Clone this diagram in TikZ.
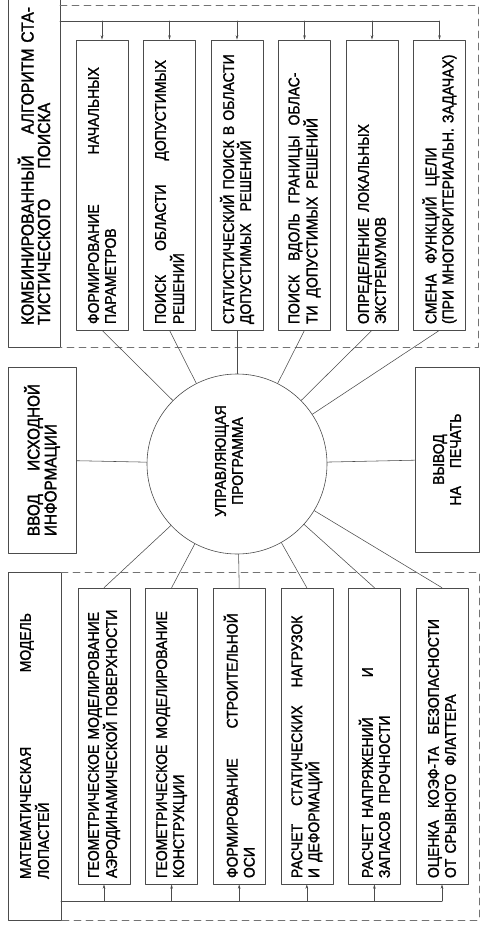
\documentclass[tikz,border=0pt]{standalone}
\usepackage{fontspec}
\setmainfont{Liberation Sans}[FakeStretch=0.9,FakeBold=1.5]
\usetikzlibrary{arrows.meta}

\begin{document}
\begin{tikzpicture}[x=1pt,y=-1pt,line cap=round,line join=round,
  blk/.style={draw=black!70,line width=0.6pt,rotate=90,inner xsep=4pt,inner ysep=0pt,
    font=\fontsize{15.5}{17}\selectfont},
  upbox/.style={blk,minimum width=290pt,minimum height=52pt,text width=278pt,align=left},
  lowbox/.style={blk,minimum width=296pt,minimum height=52pt,text width=284pt,align=left},
  wire/.style={draw=black!70,line width=0.55pt},
  feed/.style={wire,-{Stealth[length=4.5pt,width=2.6pt]}},
  dashframe/.style={draw=black!55,line width=0.6pt,dash pattern=on 7pt off 5pt}]
  \useasboundingbox (0,0) rectangle (482,925);
  \fill[white] (0,0) rectangle (482,925);
  % алгоритм поиска
  \node[blk,minimum width=362pt,minimum height=52pt,text width=318pt,align=left,
    font=\fontsize{17.5}{16.5}\selectfont] (thead) at (34,166)
    {КОМБИНИРОВАННЫЙ\hfill АЛГОРИТМ СТА-\\ТИСТИЧЕСКОГО\hspace{30pt}ПОИСКА};
  \node[upbox] (t1) at (102,185) {ФОРМИРОВАНИЕ\hspace{50pt}НАЧАЛЬНЫХ\\ПАРАМЕТРОВ};
  \node[upbox] (t2) at (169.5,185) {ПОИСК\hspace{24pt}ОБЛАСТИ\hspace{24pt}ДОПУСТИМЫХ\\РЕШЕНИЙ};
  \node[upbox] (t3) at (237,185) {СТАТИСТИЧЕСКИЙ ПОИСК В ОБЛАСТИ\\ДОПУСТИМЫХ\hspace{12pt}РЕШЕНИЙ};
  \node[upbox] (t4) at (304.5,185) {ПОИСК\hspace{14pt}ВДОЛЬ\hspace{10pt}ГРАНИЦЫ\hspace{10pt}ОБЛАС-\\ТИ\hspace{8pt}ДОПУСТИМЫХ\hspace{8pt}РЕШЕНИЙ};
  \node[upbox] (t5) at (372,185) {ОПРЕДЕЛЕНИЕ\hspace{6pt}ЛОКАЛЬНЫХ\\ЭКСТРЕМУМОВ};
  \node[upbox] (t6) at (439.5,185) {СМЕНА\hspace{10pt}ФУНКЦИЙ\hspace{10pt}ЦЕЛИ\\(ПРИ МНОГОКРИТЕРИАЛЬН. ЗАДАЧАХ)};
  \coordinate (tbus) at (60,21);
  \draw[wire] (tbus) -- (tbus -| t6.east);
  \foreach \i in {1,...,6}
    \draw[feed] (tbus -| t\i.east) -- (t\i.east);
  \draw[dashframe] (60,5) -- (478,5) -- (478,347) -- (60,347);
  % ввод, управляющая программа, вывод
  \node[blk,minimum width=186pt,minimum height=68pt,text width=152pt,align=left,
    font=\fontsize{17}{17}\selectfont] (inp) at (42,460)
    {ВВОД\hfill ИСХОДНОЙ\\ИНФОРМАЦИИ};
  \node[draw=black!70,line width=0.6pt,circle,minimum size=180pt,inner sep=0pt] (ctrl) at (237,464) {};
  \node[rotate=90,align=center,font=\fontsize{15.5}{17}\selectfont] (ctrltxt) at (229,461)
    {УПРАВЛЯЮЩАЯ\\ПРОГРАММА};
  \node[blk,minimum width=185pt,minimum height=64pt,align=center] (outp) at (447,459.5)
    {ВЫВОД\\НА\hspace{18pt}ПЕЧАТЬ};
  \draw[wire] (inp) -- (ctrl);
  \draw[wire] (ctrl) -- (outp);
  % математическая модель
  \node[blk,minimum width=348pt,minimum height=53pt,text width=266pt,align=left] (bhead) at (34.5,746)
    {МАТЕМАТИЧЕСКАЯ\hfill МОДЕЛЬ\\ЛОПАСТЕЙ};
  \node[lowbox] (b1) at (104,736) {ГЕОМЕТРИЧЕСКОЕ МОДЕЛИРОВАНИЕ\\АЭРОДИНАМИЧЕСКОЙ ПОВЕРХНОСТИ};
  \node[lowbox] (b2) at (171.6,736) {ГЕОМЕТРИЧЕСКОЕ\hspace{6pt}МОДЕЛИРОВАНИЕ\\КОНСТРУКЦИИ};
  \node[lowbox] (b3) at (239.2,736) {ФОРМИРОВАНИЕ\hspace{30pt}СТРОИТЕЛЬНОЙ\\ОСИ};
  \node[lowbox] (b4) at (306.8,736) {РАСЧЕТ\hspace{18pt}СТАТИЧЕСКИХ\hspace{18pt}НАГРУЗОК\\И\hspace{6pt}ДЕФОРМАЦИЙ};
  \node[lowbox] (b5) at (374.4,736) {РАСЧЕТ\hspace{6pt}НАПРЯЖЕНИЙ\hspace{40pt}И\\ЗАПАСОВ\hspace{8pt}ПРОЧНОСТИ};
  \node[lowbox] (b6) at (442,736) {ОЦЕНКА\hspace{12pt}КОЭФ-ТА\hspace{12pt}БЕЗОПАСНОСТИ\\ОТ СРЫВНОГО\hspace{8pt}ФЛАТТЕРА};
  \coordinate (bbus) at (61,901);
  \draw[wire] (bbus) -- (bbus -| b6.west);
  \foreach \i in {1,...,6}
    \draw[feed] (bbus -| b\i.west) -- (b\i.west);
  \draw[dashframe] (61,572) -- (479,572) -- (479,920) -- (61,920);
  % связи с управляющей программой
  \foreach \i in {1,...,6} {
    \draw[wire] (t\i.west) -- (ctrl);
    \draw[wire] (b\i.east) -- (ctrl);
  }
\end{tikzpicture}
\end{document}
